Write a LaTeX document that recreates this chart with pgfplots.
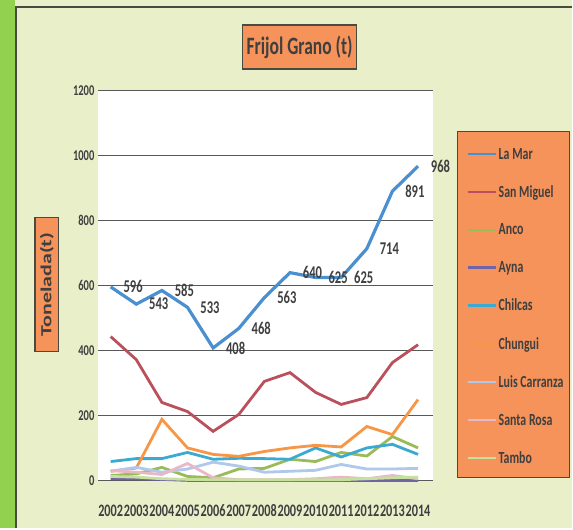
\documentclass[border=0pt]{standalone}
\usepackage{fontspec}
\setmainfont{Carlito}[FakeStretch=0.7]
\newfontfamily\plainfont{Carlito}
\usepackage{pgfplots}
\pgfplotsset{compat=1.18}

\definecolor{bgGreen}{HTML}{E8EFC9}
\definecolor{stripe}{HTML}{92D050}
\definecolor{frame}{HTML}{4A4A40}
\definecolor{boxOrange}{HTML}{F6935A}
\definecolor{txt}{HTML}{3F3F3F}
\definecolor{cLaMar}{HTML}{4A8FD0}
\definecolor{cSanMiguel}{HTML}{BA505C}
\definecolor{cAnco}{HTML}{9BBB59}
\definecolor{cAyna}{HTML}{7064A8}
\definecolor{cChilcas}{HTML}{3BAAD2}
\definecolor{cChungui}{HTML}{F79646}
\definecolor{cLuis}{HTML}{AFC8EC}
\definecolor{cSanta}{HTML}{E8B8C6}
\definecolor{cTambo}{HTML}{C6E09E}

\begin{document}
\begin{tikzpicture}
% fondo del grafico
\fill[bgGreen] (-98pt,-48pt) rectangle (475pt,481pt);
\fill[stripe] (-98pt,-48pt) rectangle (-83pt,481pt);
\draw[frame, line width=1.5pt] (-82pt,-48pt) -- (-82pt,474pt) -- (475pt,474pt);
% cajas naranjas
\filldraw[fill=boxOrange, draw=frame, line width=0.8pt] (360pt,3pt) rectangle (472pt,349pt);
\node[fill=boxOrange, draw=frame, line width=1.2pt, minimum width=114pt, minimum height=44pt,
      font=\fontsize{25}{25}\selectfont\bfseries, text=txt] at (202pt,434pt) {Frijol Grano (t)};
\node[xscale=0.7, rotate=90, fill=boxOrange, draw=frame, line width=1.2pt,
      minimum width=134pt, minimum height=34pt, inner sep=1pt,
      font=\fontsize{22}{22}\plainfont\bfseries, text=txt] at (-51pt,196pt) {Tonelada(t)};

\begin{axis}[at={(0pt,0pt)}, anchor=south west, scale only axis,
  width=336pt, height=390pt,
  xmin=2001.5, xmax=2014.6, ymin=0, ymax=1200,
  xtick={2002,...,2014}, ytick={0,200,...,1200},
  ymajorgrids, grid style={black!65, line width=0.9pt},
  axis line style={draw=none}, tick style={draw=none},
  axis background/.style={fill=white},
  clip=false,
  /pgf/number format/assume math mode=true,
  /pgf/number format/1000 sep={},
  xticklabel style={font=\fontsize{17.5}{17.5}\selectfont\bfseries, text=txt, yshift=-21pt},
  yticklabel style={font=\fontsize{15}{15}\selectfont\bfseries, text=txt},
  every axis plot/.append style={no markers, line width=2.8pt},
  legend style={at={(axis description cs:1.098,0.859)}, anchor=north west,
    draw=none, fill=none, inner sep=0pt, row sep=21pt,
    font=\fontsize{17}{17}\selectfont\bfseries\color{txt}, text=txt,
    nodes={text=txt}},
  legend cell align=left,
  legend image code/.code={\draw[#1, line width=2.2pt] (0pt,0pt) -- (28pt,0pt);},
]
\addplot[cLaMar, line width=3.2pt, nodes near coords,
  every node near coord/.append style={anchor=west, xshift=8pt, text=txt,
    font=\fontsize{18}{18}\selectfont\bfseries}]
  coordinates {(2002,596) (2003,543) (2004,585) (2005,533) (2006,408) (2007,468) (2008,563)
               (2009,640) (2010,625) (2011,625) (2012,714) (2013,891) (2014,968)};
\addplot[cSanMiguel] coordinates {(2002,443) (2003,372) (2004,240) (2005,212) (2006,151) (2007,203)
               (2008,305) (2009,332) (2010,271) (2011,234) (2012,255) (2013,363) (2014,418)};
\addplot[cAnco] coordinates {(2002,15) (2003,20) (2004,40) (2005,12) (2006,8) (2007,35) (2008,37)
               (2009,65) (2010,58) (2011,86) (2012,75) (2013,135) (2014,100)};
\addplot[cAyna] coordinates {(2002,5) (2003,5) (2004,3) (2005,0) (2006,0) (2007,0) (2008,0)
               (2009,0) (2010,0) (2011,0) (2012,0) (2013,0) (2014,0)};
\addplot[cChilcas] coordinates {(2002,58) (2003,67) (2004,67) (2005,86) (2006,65) (2007,68) (2008,67)
               (2009,65) (2010,100) (2011,72) (2012,100) (2013,111) (2014,80)};
\addplot[cChungui] coordinates {(2002,28) (2003,38) (2004,188) (2005,100) (2006,80) (2007,74) (2008,89)
               (2009,100) (2010,108) (2011,103) (2012,166) (2013,141) (2014,249)};
\addplot[cLuis] coordinates {(2002,28) (2003,40) (2004,25) (2005,35) (2006,56) (2007,44) (2008,25)
               (2009,28) (2010,31) (2011,49) (2012,35) (2013,35) (2014,37)};
\addplot[cSanta] coordinates {(2002,30) (2003,25) (2004,18) (2005,52) (2006,8) (2007,2) (2008,2)
               (2009,2) (2010,5) (2011,10) (2012,5) (2013,15) (2014,5)};
\addplot[cTambo] coordinates {(2002,12) (2003,10) (2004,5) (2005,3) (2006,2) (2007,2) (2008,2)
               (2009,2) (2010,2) (2011,2) (2012,5) (2013,8) (2014,10)};
\legend{La Mar, San Miguel, Anco, Ayna, Chilcas, Chungui, Luis Carranza, Santa Rosa, Tambo}
\end{axis}
\end{tikzpicture}
\end{document}
